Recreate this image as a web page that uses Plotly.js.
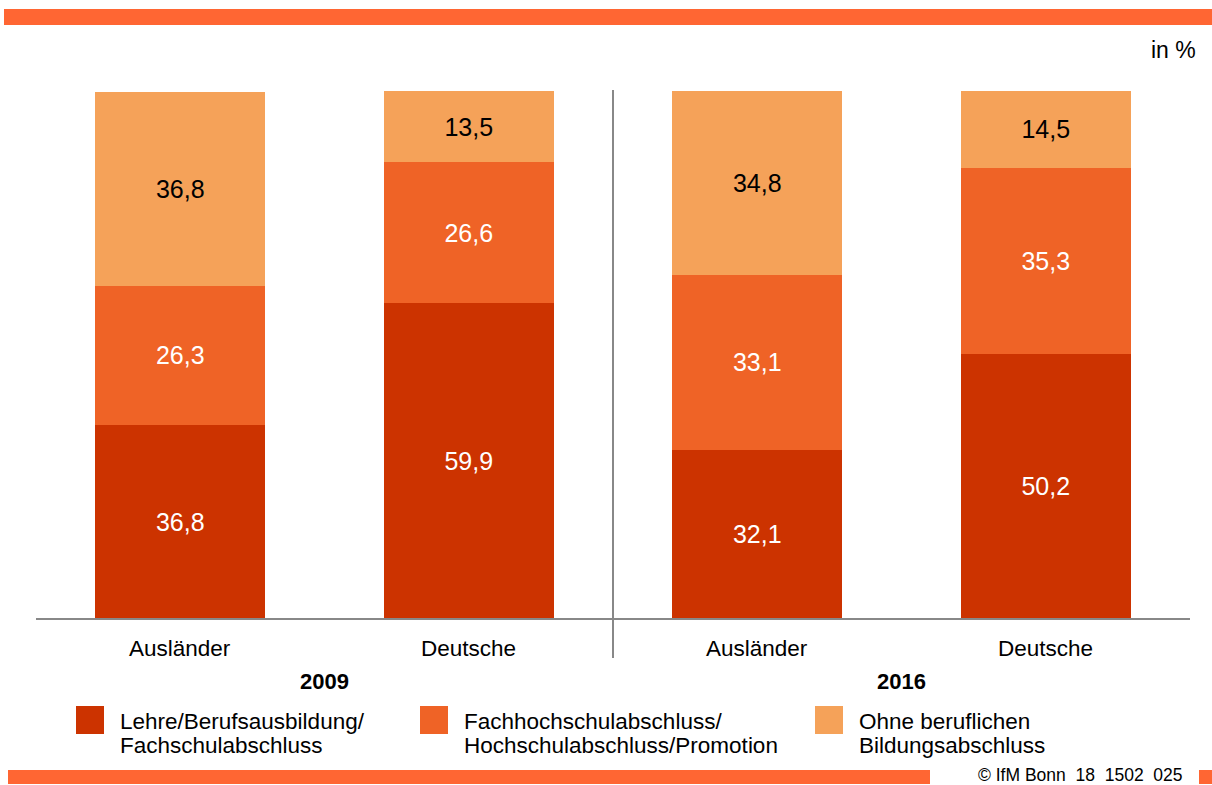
<!DOCTYPE html>
<html><head><meta charset="utf-8">
<script src="https://cdn.plot.ly/plotly-3.0.1.min.js"></script>
<style>html,body{margin:0;padding:0;background:#fff}#chart{width:1212px;height:785px}</style>
</head><body><div id="chart"></div>
<script>
const categories = ["Ausländer", "Deutsche", "Ausländer", "Deutsche"];
const years = ["2009", "2016"];
const seriesNames = [["Lehre/Berufsausbildung/", "Fachschulabschluss"], ["Fachhochschulabschluss/", "Hochschulabschluss/Promotion"], ["Ohne beruflichen", "Bildungsabschluss"]];
const lehre = [36.8, 59.9, 32.1, 50.2];
const hochschule = [26.3, 26.6, 33.1, 35.3];
const ohne = [36.8, 13.5, 34.8, 14.5];
const colors = ["#CC3300", "#EF6326", "#F5A259"];
const textColors = ["#ffffff", "#ffffff", "#000000"];
const footer = "© IfM Bonn  18  1502  025";

const W = 1212, H = 785, L = 36, R = 1190, T = 91, B = 619;
const px = v => (v - L) / (R - L);
const py = v => (B - v) / (B - T);
const fmt = v => v.toFixed(1).replace('.', ',');
const xs = categories.map((c, i) => i);
const FONT = "Liberation Sans, Arial, sans-serif";

const data = [lehre, hochschule, ohne].map((vals, k) => ({
  type: 'bar', x: xs, y: vals, width: 0.59,
  marker: {color: colors[k], line: {width: 0}},
  text: vals.map(fmt), textposition: 'inside', insidetextanchor: 'middle',
  textfont: {family: FONT, size: 25, color: textColors[k]},
  hoverinfo: 'skip', showlegend: false, name: seriesNames[k].join(' ')
}));

const shapes = [
  {type: 'rect', xref: 'paper', yref: 'paper', x0: px(4), x1: px(1212), y0: py(25), y1: py(9), fillcolor: '#FF6633', line: {width: 0}},
  {type: 'rect', xref: 'paper', yref: 'paper', x0: px(8), x1: px(930), y0: py(784), y1: py(770), fillcolor: '#FF6633', line: {width: 0}},
  {type: 'rect', xref: 'paper', yref: 'paper', x0: px(1199), x1: px(1212), y0: py(784), y1: py(770), fillcolor: '#FF6633', line: {width: 0}},
  {type: 'line', xref: 'paper', yref: 'paper', x0: 0, x1: 1, y0: 0, y1: 0, line: {color: '#888888', width: 2}},
  {type: 'line', xref: 'x', yref: 'paper', x0: 1.5, x1: 1.5, y0: py(658), y1: py(90), line: {color: '#888888', width: 2}}
];
const annotations = [
  {xref: 'paper', yref: 'paper', x: px(1198), y: py(50), xanchor: 'right', yanchor: 'middle', text: 'in %', showarrow: false, font: {family: FONT, size: 23, color: '#000'}},
  {xref: 'paper', yref: 'paper', x: px(1184), y: py(775), xanchor: 'right', yanchor: 'middle', borderpad: 0, text: footer, showarrow: false, font: {family: FONT, size: 17.5, color: '#000'}}
];
categories.forEach((c, i) => annotations.push({xref: 'x', yref: 'paper', x: i, y: py(648), xanchor: 'center', yanchor: 'middle', text: c, showarrow: false, font: {family: FONT, size: 22.5, color: '#000'}}));
years.forEach((y, i) => annotations.push({xref: 'x', yref: 'paper', x: 0.5 + 2 * i, y: py(681), xanchor: 'center', yanchor: 'middle', text: '<b>' + y + '</b>', showarrow: false, font: {family: FONT, size: 22, color: '#000'}}));
const legX = [76, 420, 815];
seriesNames.forEach((lines, k) => {
  shapes.push({type: 'rect', xref: 'paper', yref: 'paper', x0: px(legX[k]), x1: px(legX[k] + 28), y0: py(734), y1: py(706), fillcolor: colors[k], line: {width: 0}});
  lines.forEach((t, j) => annotations.push({xref: 'paper', yref: 'paper', x: px(legX[k] + 42), y: py(721 + 24 * j), xanchor: 'left', yanchor: 'middle', align: 'left', text: t, showarrow: false, font: {family: FONT, size: 22.5, color: '#000'}}));
});

const layout = {
  width: W, height: H, barmode: 'stack',
  margin: {l: L, r: W - R, t: T, b: H - B, pad: 0},
  paper_bgcolor: '#fff', plot_bgcolor: '#fff',
  xaxis: {range: [-0.5, 3.5], showticklabels: false, showgrid: false, zeroline: false, showline: false, ticks: ''},
  yaxis: {range: [0, 100], showticklabels: false, showgrid: false, zeroline: false, showline: false, ticks: ''},
  shapes: shapes, annotations: annotations, font: {family: FONT}
};
Plotly.newPlot('chart', data, layout, {displayModeBar: false, staticPlot: true});
</script></body></html>
